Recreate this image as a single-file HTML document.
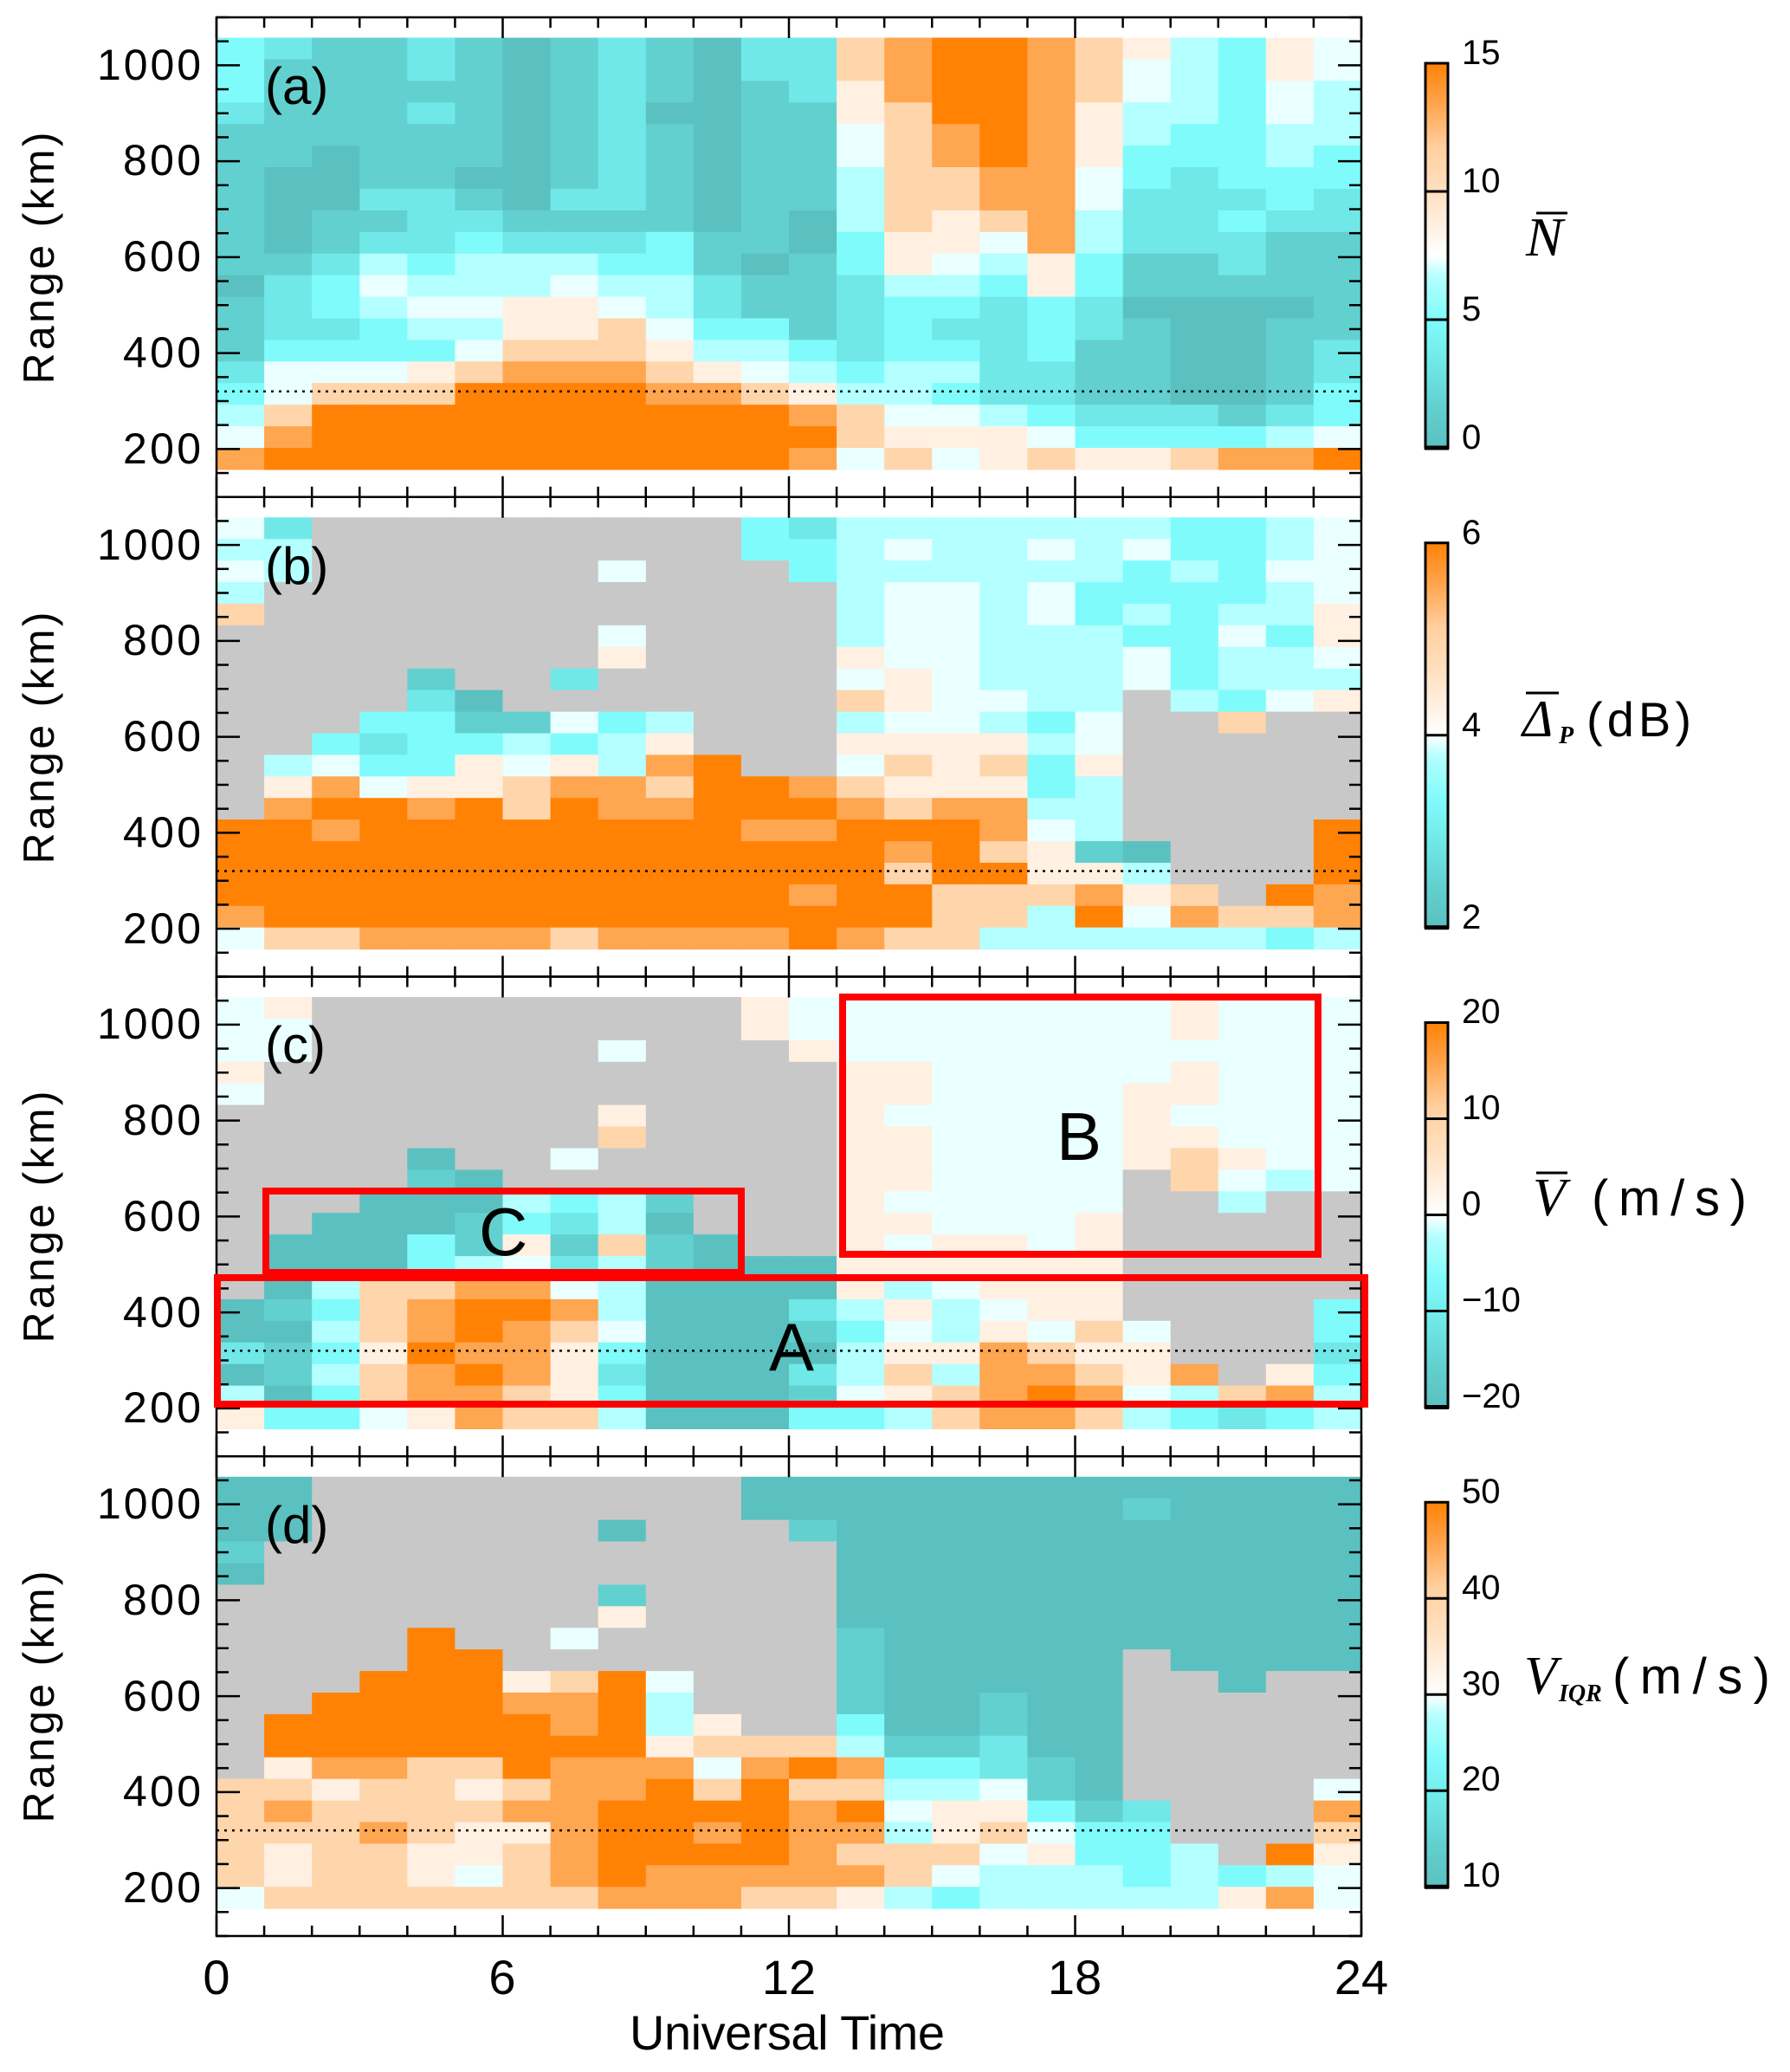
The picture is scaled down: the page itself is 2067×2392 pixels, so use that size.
<!DOCTYPE html>
<html><head><meta charset="utf-8">
<style>
html,body{margin:0;padding:0;background:#fff;}
svg{display:block;}
text{font-family:"Liberation Sans",sans-serif;fill:#000;}
.tl{font-size:50px;}
.cb{font-size:40px;}
.rl{font-size:50px;letter-spacing:2px;}
.pl{font-size:60px;}
.xl{font-size:56px;}
.red{font-size:78px;fill:#ff0000;}
.ser{font-family:"Liberation Serif",serif;font-style:italic;}
</style></head>
<body>
<svg id="s" width="2067" height="2392" viewBox="0 0 2067 2392" xmlns="http://www.w3.org/2000/svg">
<defs>
<linearGradient id="cg" x1="0" y1="1" x2="0" y2="0">
<stop offset="0" stop-color="#5bc0c0"/>
<stop offset="0.111" stop-color="#63d0d0"/>
<stop offset="0.222" stop-color="#70e8e8"/>
<stop offset="0.333" stop-color="#80fbfb"/>
<stop offset="0.444" stop-color="#b4ffff"/>
<stop offset="0.5" stop-color="#ffffff"/>
<stop offset="0.667" stop-color="#ffe0c0"/>
<stop offset="0.778" stop-color="#ffd0a0"/>
<stop offset="0.889" stop-color="#ffa650"/>
<stop offset="1" stop-color="#ff8205"/>
</linearGradient>
</defs>
<g id="cells"></g>
<g id="axes"></g>

<!-- y tick labels -->
<g class="tl" text-anchor="end">
<text x="232" y="92" textLength="120">1000</text><text x="232" y="202" textLength="90">800</text><text x="232" y="313" textLength="90">600</text><text x="232" y="424" textLength="90">400</text><text x="232" y="535" textLength="90">200</text>
<text x="232" y="646" textLength="120">1000</text><text x="232" y="756" textLength="90">800</text><text x="232" y="867" textLength="90">600</text><text x="232" y="978" textLength="90">400</text><text x="232" y="1089" textLength="90">200</text>
<text x="232" y="1199" textLength="120">1000</text><text x="232" y="1310" textLength="90">800</text><text x="232" y="1421" textLength="90">600</text><text x="232" y="1532" textLength="90">400</text><text x="232" y="1642" textLength="90">200</text>
<text x="232" y="1753" textLength="120">1000</text><text x="232" y="1864" textLength="90">800</text><text x="232" y="1975" textLength="90">600</text><text x="232" y="2085" textLength="90">400</text><text x="232" y="2196" textLength="90">200</text>
</g>
<!-- Range labels -->
<g class="rl" text-anchor="middle">
<text transform="translate(62,297) rotate(-90)" textLength="293">Range (km)</text>
<text transform="translate(62,851) rotate(-90)" textLength="293">Range (km)</text>
<text transform="translate(62,1404) rotate(-90)" textLength="293">Range (km)</text>
<text transform="translate(62,1958) rotate(-90)" textLength="293">Range (km)</text>
</g>
<!-- panel letters -->
<g class="pl">
<text x="306" y="120">(a)</text>
<text x="306" y="674">(b)</text>
<text x="306" y="1227">(c)</text>
<text x="306" y="1781">(d)</text>
</g>
<!-- x labels -->
<g class="xl" text-anchor="middle">
<text x="250" y="2302">0</text><text x="580" y="2302">6</text><text x="911" y="2302">12</text><text x="1241" y="2302">18</text><text x="1572" y="2302">24</text>
<text x="909" y="2366" textLength="364">Universal Time</text>
</g>
<!-- red boxes -->
<g fill="none" stroke="#ff0000" stroke-width="8">
<rect x="307" y="1375" width="549" height="94"/>
<rect x="973" y="1151" width="549" height="297"/>
<rect x="251" y="1475" width="1325" height="146"/>
</g>
<g class="red">
<text x="888" y="1582">A</text>
<text x="1220" y="1339">B</text>
<text x="553" y="1449">C</text>
</g>
<!-- colorbar labels -->
<g class="cb">
<text x="1688" y="74">15</text><text x="1688" y="222">10</text><text x="1688" y="370">5</text><text x="1688" y="518">0</text>
<text x="1688" y="628">6</text><text x="1688" y="850">4</text><text x="1688" y="1072">2</text>
<text x="1688" y="1181">20</text><text x="1688" y="1292">10</text><text x="1688" y="1403">0</text><text x="1688" y="1514">−10</text><text x="1688" y="1625">−20</text>
<text x="1688" y="1735">50</text><text x="1688" y="1846">40</text><text x="1688" y="1957">30</text><text x="1688" y="2067">20</text><text x="1688" y="2178">10</text>
</g>
<!-- colorbar titles -->
<text x="1762" y="295" class="ser" style="font-size:64px">N</text>
<line x1="1774" y1="246" x2="1810" y2="246" stroke="#000" stroke-width="3"/>
<text x="1758" y="850" class="ser" style="font-size:60px">Δ</text>
<line x1="1762" y1="800" x2="1800" y2="800" stroke="#000" stroke-width="3"/>
<text x="1800" y="858" class="ser" style="font-size:28px;font-weight:bold">P</text>
<text x="1832" y="850" style="font-size:56px" textLength="121">(dB)</text>
<text x="1770" y="1403" class="ser" style="font-size:62px">V</text>
<line x1="1774" y1="1354" x2="1810" y2="1354" stroke="#000" stroke-width="3"/>
<text x="1838" y="1403" style="font-size:58px" textLength="179">(m/s)</text>
<text x="1760" y="1955" class="ser" style="font-size:62px">V</text>
<text x="1800" y="1964" class="ser" style="font-size:28px;font-weight:bold">IQR</text>
<text x="1862" y="1955" style="font-size:58px" textLength="182">(m/s)</text>
</svg>
<script>
(function(){
var L=250,R=1572,K=0.55375,PH=553.75,T0=20,HW=(R-L)/24;
var col=["#5bc0c0","#63d0d0","#70e8e8","#80fbfb","#b4ffff","#eaffff","#fff0e2","#ffd5ab","#ffa650","#ff8205"];
var P=[
["321121012102278998764365","311121012102278998754365","311111012101268998754354","211121012001167998644354","111111012101157898643344","110111012101157898633343","100110012101147788532333","100221022101147788522232","101122111101047678422322","101223222311036658422211","112434443310136546311211","023544454421124436311111","123455665421123323200001","122344667533123223210011","133335777644323323110012","255567888765434422110012","357779999887644322110013","479999999999875543222123","589999999999976665333345","899999999999857567667889"],
["52ggggggggg3244444443345","44ggggggggg3345445453345","54gggggg5ggg344444434355","4gggggggggggg45545333345","7gggggggggggg45545343446","gggggggg5gggg45544433536","gggggggg6gggg65544453445","gggg1gg2ggggg56544453444","gggg20ggggggg765544g4356","ggg3311534ggg455435gg7gg","gg32334346ggg666645ggggg","g4533656489gg576736ggggg","g685667887998766634ggggg","g899897988999878844ggggg","9989999999988999854gggg9","99999999999999897610ggg9","99999999999999799664ggg9","999999999999899777867g98","899999999999999774958778","577888878888987744444434"],
["56ggggggggg6555555556555","55ggggggggg6555555556555","55gggggg5ggg655555555555","6gggggggggggg66555556555","5gggggggggggg66555566555","gggggggg6gggg65555565555","gggggggg7gggg66555566555","gggg0gg5ggggg66555567655","gggg10ggggggg665555g7545","ggg0004341ggg655555gg4gg","gg00013240ggg665556ggggg","g0003161710gg656656ggggg","g000345241000666666ggggg","g047788540000645666ggggg","0137899840002464566gggg3","00478987500013546575ggg3","21369886300004668766ggg2","014789862000247488768g63","403788763000156789854784","633568774000334788743234"],
["00ggggggggg0000000000000","00ggggggggg0000000010000","00gggggg0ggg100000000000","1gggggggggggg00000000000","0gggggggggggg00000000000","gggggggg1gggg00000000000","gggggggg6gggg00000000000","gggg9gg5ggggg10000000000","gggg99ggggggg100000g0000","ggg9996795ggg100000gg0gg","gg99998894ggg100100ggggg","g9999998946gg300100ggggg","g999999996777411200ggggg","g688779888589833210ggggg","7767767889797744510gggg5","78777788999989566312ggg8","77787668998988467533ggg7","767766789999877756334g96","767765789888887544434345","577777778887764344444685"]
];
var h='',a='';
for(var p=0;p<4;p++){
 var T=T0+p*PH;
 for(var r=0;r<20;r++){
  var s=P[p][r];
  var y0=T+(1100-(1057.5-45*r))*K;
  for(var c=0;c<24;c++){
   var ch=s.charAt(c)||'g';
   var f=ch==='g'?'#c8c8c8':col[parseInt(ch,10)];
   h+='<rect x="'+(L+c*HW).toFixed(1)+'" y="'+y0.toFixed(1)+'" width="'+(HW+0.6).toFixed(1)+'" height="'+(45*K+0.6).toFixed(1)+'" fill="'+f+'"/>';
  }
 }
 // dotted line
 var yd=T+(1100-320)*K;
 a+='<line x1="'+L+'" y1="'+yd+'" x2="'+R+'" y2="'+yd+'" stroke="#000" stroke-width="2.5" stroke-dasharray="3,6"/>';
 // frame
 a+='<rect x="'+L+'" y="'+T+'" width="'+(R-L)+'" height="'+PH+'" fill="none" stroke="#000" stroke-width="2.5"/>';
 // y ticks
 for(var v=100;v<=1100;v+=50){
  var yy=T+(1100-v)*K, len=(v%200===0)?27:14;
  a+='<line x1="'+L+'" y1="'+yy+'" x2="'+(L+len)+'" y2="'+yy+'" stroke="#000" stroke-width="2.5"/>';
  a+='<line x1="'+R+'" y1="'+yy+'" x2="'+(R-len)+'" y2="'+yy+'" stroke="#000" stroke-width="2.5"/>';
 }
 // x ticks
 for(var hh=0;hh<=24;hh++){
  var xx=L+hh*HW, ln=(hh%6===0)?24:12;
  a+='<line x1="'+xx+'" y1="'+(T+PH)+'" x2="'+xx+'" y2="'+(T+PH-ln)+'" stroke="#000" stroke-width="2.5"/>';
  a+='<line x1="'+xx+'" y1="'+T+'" x2="'+xx+'" y2="'+(T+ln)+'" stroke="#000" stroke-width="2.5"/>';
 }
 // colorbar
 var cy=73+p*PH;
 a+='<rect x="1646" y="'+cy+'" width="26" height="444" fill="url(#cg)" stroke="#000" stroke-width="3"/>';
 a+='<line x1="1645" y1="'+(cy+444)+'" x2="1673" y2="'+(cy+444)+'" stroke="#000" stroke-width="5"/>';
 var fr=p===0?[1/3,2/3]:(p===1?[0.5]:(p===2?[0.25,0.5,0.75]:[0.25,0.5,0.75]));
 for(var i=0;i<fr.length;i++){var yl=cy+444*(1-fr[i]);a+='<line x1="1646" y1="'+yl+'" x2="1672" y2="'+yl+'" stroke="#000" stroke-width="3"/>';}
}
document.getElementById('cells').innerHTML=h;
document.getElementById('axes').innerHTML=a;
})();
</script>
</body></html>
